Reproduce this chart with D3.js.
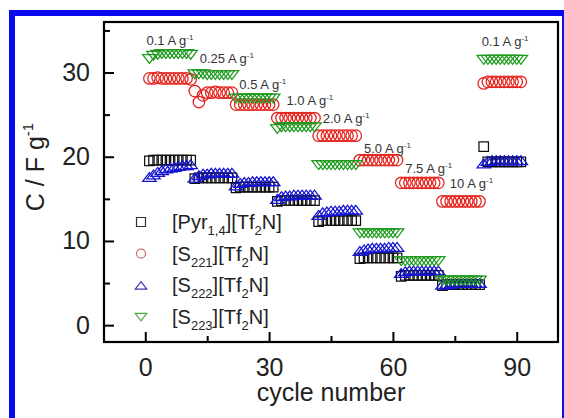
<!DOCTYPE html>
<html>
<head>
<meta charset="utf-8">
<script src="https://cdn.jsdelivr.net/npm/d3@7"></script>
<style>
  body { margin: 0; background: #fff; }
  svg { display: block; font-family: Arial, "Liberation Sans", sans-serif; }
</style>
</head>
<body>
<svg id="chart" width="564" height="418"></svg>
<script>
// cycle numbers (first rate step has 11 cycles, the others 10)
var cycles = d3.range(1, 92);

// capacitance C / F g-1
var pyr14 = [
  19.5,19.6,19.6,19.6,19.6,19.6,19.6,19.6,19.6,19.6,19.6,
  17.4,17.5,17.5,17.5,17.5,17.5,17.5,17.5,17.5,17.5,
  16.3,16.4,16.4,16.4,16.4,16.4,16.4,16.4,16.4,16.4,
  14.7,14.8,14.8,14.8,14.8,14.8,14.8,14.8,14.8,14.8,
  12.3,12.4,12.4,12.4,12.4,12.4,12.4,12.4,12.4,12.4,
  7.9,8.0,8.0,8.0,8.0,8.0,8.0,8.0,8.0,8.0,
  5.8,5.9,5.9,5.9,5.9,5.9,5.9,5.9,5.9,5.9,
  4.7,4.8,4.8,4.8,4.8,4.8,4.8,4.8,4.8,4.8,
  21.2,19.4,19.4,19.4,19.4,19.4,19.4,19.4,19.4,19.4
];
var s221 = [
  29.3,29.3,29.4,29.3,29.3,29.3,29.3,29.3,29.3,29.3,29.2,
  27.8,26.5,27.3,27.6,27.6,27.7,27.6,27.6,27.6,27.6,
  26.2,26.2,26.2,26.2,26.2,26.2,26.2,26.2,26.2,26.2,
  24.6,24.6,24.6,24.6,24.6,24.6,24.6,24.6,24.6,24.6,
  22.5,22.5,22.5,22.5,22.5,22.5,22.5,22.5,22.5,22.5,
  19.6,19.6,19.6,19.6,19.6,19.6,19.6,19.6,19.6,19.6,
  16.9,16.9,16.9,16.9,16.9,16.9,16.9,16.9,16.9,16.9,
  14.7,14.7,14.7,14.7,14.7,14.7,14.7,14.7,14.7,14.7,
  28.7,28.9,28.9,28.9,28.9,28.9,28.9,28.9,28.9,28.9
];
var s222 = [
  17.6,17.9,18.2,18.4,18.6,18.7,18.8,18.9,19.0,19.0,19.1,
  17.5,17.8,18.0,18.0,18.1,18.1,18.1,18.1,18.1,18.1,
  16.6,16.9,17.0,17.0,17.1,17.1,17.1,17.1,17.1,17.1,
  15.0,15.3,15.4,15.4,15.5,15.5,15.5,15.5,15.5,15.5,
  13.1,13.4,13.5,13.6,13.6,13.6,13.7,13.7,13.7,13.7,
  8.8,9.0,9.1,9.2,9.2,9.2,9.2,9.3,9.3,9.3,
  6.2,6.4,6.5,6.5,6.5,6.5,6.5,6.5,6.5,6.5,
  4.8,4.9,4.9,5.0,5.0,5.0,5.0,5.0,5.0,5.0,
  19.2,19.5,19.6,19.6,19.6,19.6,19.6,19.6,19.6,19.6
];
var s223 = [
  31.6,32.0,32.1,32.2,32.2,32.2,32.2,32.2,32.2,32.2,32.1,
  29.8,29.8,29.8,29.7,29.7,29.7,29.7,29.7,29.7,29.7,
  26.9,26.9,26.9,26.9,26.9,26.9,26.9,26.9,26.9,26.9,
  23.3,23.5,23.5,23.5,23.5,23.5,23.5,23.5,23.5,23.5,
  19.0,19.0,19.0,19.0,19.0,19.0,19.0,19.0,19.0,19.0,
  10.9,10.9,10.9,10.9,10.9,10.9,10.9,10.9,10.9,10.9,
  7.6,7.6,7.6,7.6,7.6,7.6,7.6,7.6,7.6,7.6,
  5.3,5.3,5.3,5.3,5.3,5.3,5.3,5.3,5.3,5.3,
  31.5,31.5,31.5,31.5,31.5,31.5,31.5,31.5,31.5,31.5
];

var seriesNames = ["Pyr", "S221", "S222", "S223"];
var legendMain = ["[Pyr", "[S", "[S", "[S"];
var legendSub = ["1,4", "221", "222", "223"];

var rateLabels = ["0.1 A g", "0.25 A g", "0.5 A g", "1.0 A g", "2.0 A g",
                  "5.0 A g", "7.5 A g", "10 A g", "0.1 A g"];
// anchor of each rate label, in data units (cycle, C)
var rateAtCycle = [0.3, 13.2, 22.8, 34.2, 43, 53, 63, 73.8, 81.5];
var rateAtC = [33.3, 31.1, 28.0, 26.1, 24.0, 20.4, 18.1, 16.3, 33.1];

var xTicks = [0, 30, 60, 90];
var xMinor = [15, 45, 75];
var yTicks = [0, 10, 20, 30];
var yMinor = [5, 15, 25, 35];

/* ---------------------------------------------------------------*/
var svg = d3.select("#chart");

var x = d3.scaleLinear().domain([-10, 100]).range([104, 558]);
var y = d3.scaleLinear().domain([-2, 36]).range([342, 22]);

// outer blue border of the figure
svg.append("rect")
  .attr("x", 12).attr("y", 13)
  .attr("width", 553).attr("height", 420)
  .attr("fill", "none")
  .attr("stroke", "#0a0af0")
  .attr("stroke-width", 6);

// marker shapes
function markerPath(kind, s) {
  var h = s / 2;
  if (kind === "Pyr") {
    return "M" + (-h) + "," + (-h) + "H" + h + "V" + h + "H" + (-h) + "Z";
  }
  if (kind === "S221") {
    return "M" + (-h) + ",0A" + h + "," + h + " 0 1,0 " + h + ",0A" + h + "," + h + " 0 1,0 " + (-h) + ",0Z";
  }
  var w = s * 0.64, t = s * 0.42;
  if (kind === "S222") {
    return "M0," + (-t) + "L" + w + "," + t + "L" + (-w) + "," + t + "Z";
  }
  return "M0," + t + "L" + w + "," + (-t) + "L" + (-w) + "," + (-t) + "Z";
}

var series = [
  { name: "Pyr", values: pyr14, color: "#111111", size: 9.5 },
  { name: "S222", values: s222, color: "#1414d2", size: 10.5 },
  { name: "S221", values: s221, color: "#e4221c", size: 11.5 },
  { name: "S223", values: s223, color: "#1f9a1f", size: 10.5 }
];

series.forEach(function(s) {
  svg.append("g")
    .selectAll("path")
    .data(s.values)
    .join("path")
    .attr("transform", function(d, i) { return "translate(" + x(cycles[i]) + "," + y(d) + ")"; })
    .attr("d", markerPath(s.name, s.size))
    .attr("fill", "none")
    .attr("stroke", s.color)
    .attr("stroke-width", 1.25);
});

// axes
svg.append("g")
  .attr("transform", "translate(0,342)")
  .call(d3.axisBottom(x).tickValues(xTicks).tickSizeInner(-10).tickSizeOuter(0).tickPadding(16));
svg.append("g")
  .attr("transform", "translate(0,342)")
  .call(d3.axisBottom(x).tickValues(xMinor).tickSizeInner(-6).tickSizeOuter(0).tickFormat(""));
svg.append("g")
  .attr("transform", "translate(104,0)")
  .call(d3.axisLeft(y).tickValues(yTicks).tickSizeInner(-10).tickSizeOuter(0).tickPadding(14));
svg.append("g")
  .attr("transform", "translate(104,0)")
  .call(d3.axisLeft(y).tickValues(yMinor).tickSizeInner(-6).tickSizeOuter(0).tickFormat(""));

svg.selectAll(".domain").remove();
svg.selectAll(".tick line").attr("stroke", "#000").attr("stroke-width", 2);
svg.selectAll(".tick text")
  .attr("font-size", 25)
  .attr("font-family", "Arial, 'Liberation Sans', sans-serif")
  .attr("fill", "#222");

// frame
svg.append("rect")
  .attr("x", 104).attr("y", 22)
  .attr("width", 454).attr("height", 320)
  .attr("fill", "none")
  .attr("stroke", "#000")
  .attr("stroke-width", 2.2);

// axis titles
svg.append("text")
  .attr("x", 331).attr("y", 401)
  .attr("text-anchor", "middle")
  .attr("font-size", 25)
  .attr("fill", "#222")
  .text("cycle number");

var yt = svg.append("text")
  .attr("transform", "translate(44,167) rotate(-90)")
  .attr("text-anchor", "middle")
  .attr("font-size", 25)
  .attr("fill", "#222");
yt.append("tspan").text("C / F g");
yt.append("tspan").attr("dy", -11).attr("font-size", 15).text("-1");

// rate labels
rateLabels.forEach(function(lbl, i) {
  var t = svg.append("text")
    .attr("x", x(rateAtCycle[i]))
    .attr("y", y(rateAtC[i]))
    .attr("font-size", 13)
    .attr("fill", "#333");
  t.append("tspan").text(lbl);
  t.append("tspan").attr("dy", -5).attr("font-size", 8).text("-1");
});

// legend
var legendColors = ["#333333", "#d06a6a", "#3a3ab0", "#4aa84a"];
seriesNames.forEach(function(name, i) {
  var ly = 222 + i * 31.7;
  svg.append("path")
    .attr("transform", "translate(141," + ly + ")")
    .attr("d", markerPath(name, 9))
    .attr("fill", "none")
    .attr("stroke", legendColors[i])
    .attr("stroke-width", 1.2);
  var t = svg.append("text")
    .attr("x", 172).attr("y", ly + 7)
    .attr("font-size", 20)
    .attr("fill", "#222");
  t.append("tspan").text(legendMain[i]);
  t.append("tspan").attr("dy", 6).attr("font-size", 13).text(legendSub[i]);
  t.append("tspan").attr("dy", -6).text("][Tf");
  t.append("tspan").attr("dy", 6).attr("font-size", 13).text("2");
  t.append("tspan").attr("dy", -6).text("N]");
});
</script>
</body>
</html>
